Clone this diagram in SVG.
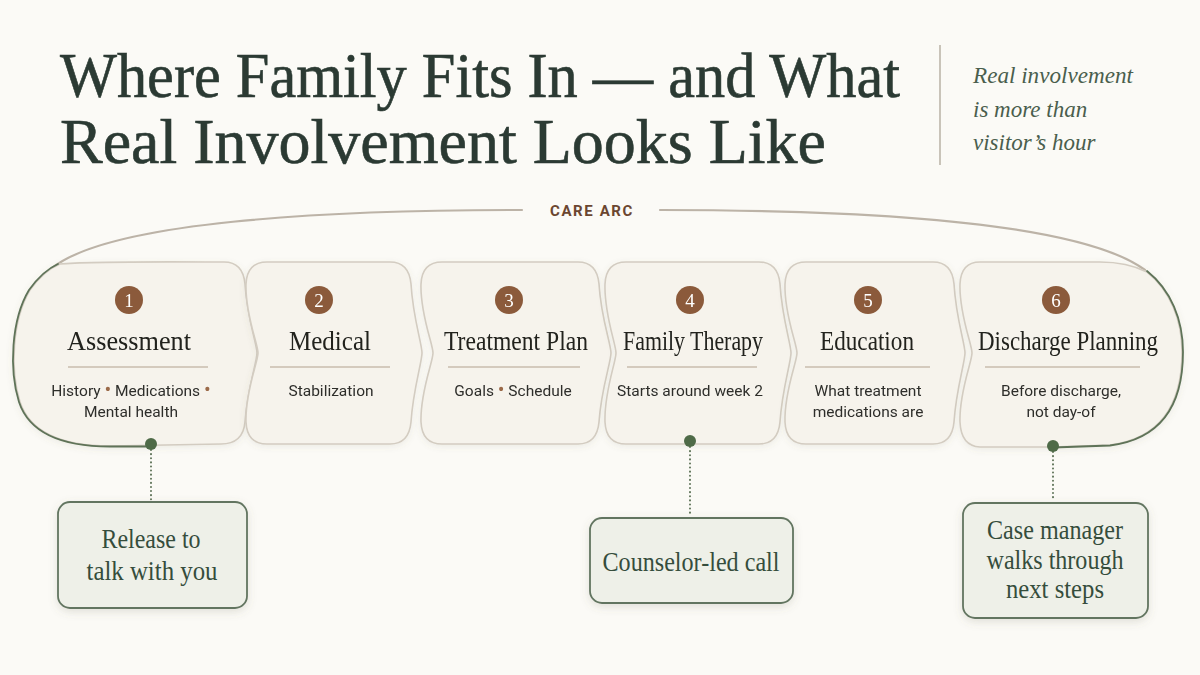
<svg xmlns="http://www.w3.org/2000/svg" width="1200" height="675" viewBox="0 0 1200 675">
<defs>
<style>
.title{font-family:"Liberation Serif","DejaVu Serif",serif;font-size:63px;fill:#2b3a33;stroke:#2b3a33;stroke-width:0.6;}
.side{font-family:"Liberation Serif","DejaVu Serif",serif;font-style:italic;font-size:23px;fill:#4a5e4d;}
.arc{fill:none;stroke:#bcb3a7;stroke-width:2.2;stroke-linecap:round;}
.arclabel{font-family:"Roboto","Liberation Sans",sans-serif;font-weight:bold;font-size:15px;letter-spacing:1.6px;fill:#6b4630;}
.card{fill:#f6f3ec;stroke:#d3ccc1;stroke-width:1.6;}
.green{fill:none;stroke:#5e7358;stroke-width:1.8;stroke-linecap:round;}
.num{fill:#8b5a3a;}
.numt{font-family:"Liberation Serif","DejaVu Serif",serif;font-size:19px;fill:#ffffff;text-anchor:middle;}
.ct{font-family:"Liberation Serif","DejaVu Serif",serif;font-size:27px;fill:#22231f;text-anchor:middle;}
.rule{stroke:#c9bcae;stroke-width:1.6;}
.sub{font-family:"Roboto","Liberation Sans",sans-serif;font-size:15.5px;fill:#2e2e2b;text-anchor:middle;}
.bul{fill:#9b6a4a;font-size:20px;}
.dot{fill:#4e6a47;}
.dl{fill:none;stroke:#5e7358;stroke-width:2;stroke-dasharray:0.1 4;stroke-linecap:round;}
.call{fill:#eef0e8;stroke:#627560;stroke-width:1.8;}
.callt{font-family:"Liberation Serif","DejaVu Serif",serif;font-size:28px;fill:#354d3c;text-anchor:middle;}
</style>
<filter id="sh" x="-10%" y="-10%" width="120%" height="130%">
<feDropShadow dx="0" dy="3" stdDeviation="4" flood-color="#6b6b55" flood-opacity="0.18"/>
</filter>
<filter id="sh2" x="-10%" y="-10%" width="120%" height="130%">
<feDropShadow dx="0" dy="2" stdDeviation="3" flood-color="#6b6b55" flood-opacity="0.10"/>
</filter>
</defs>
<rect width="1200" height="675" fill="#fbfaf6"/>

<g id="title">
<text class="title" x="60" y="97" textLength="840" lengthAdjust="spacingAndGlyphs">Where Family Fits In — and What</text>
<text class="title" x="60" y="163" textLength="766" lengthAdjust="spacingAndGlyphs">Real Involvement Looks Like</text>
</g>
<g id="aside">
<line x1="940" y1="45" x2="940" y2="165" stroke="#bdb6aa" stroke-width="1.6"/>
<text class="side" x="973" y="83" textLength="160" lengthAdjust="spacingAndGlyphs">Real involvement</text>
<text class="side" x="973" y="117">is more than</text>
<text class="side" x="973" y="150">visitor’s hour</text>
</g>

<g id="connectors">
<path class="arc" d="M 52 268 C 110 222, 320 210, 522 210"/>
<path class="arc" d="M 660 210 C 870 210, 1080 222, 1145 270"/>
<path class="dl" d="M 151 450 L 151 500"/>
<path class="dl" d="M 690 447 L 690 516"/>
<path class="dl" d="M 1053 452 L 1053 501"/>
</g>
<g id="care-arc-label"><text class="arclabel" x="592" y="216" text-anchor="middle">CARE ARC</text></g>

<g id="step1" filter="url(#sh2)">
<path class="card" d="M 60 264 C 90 261, 200 262, 224 262 Q 243 262 245 284 C 247 318, 257 344, 257 353 C 257 362, 247 390, 245 422 Q 243 444 221 444 L 110 446 C 60 446, 30 432, 20 402 C 10 370, 12 320, 30 290 C 40 276, 50 268, 60 264 Z"/>
<path class="green" d="M 150 446.5 L 110 446.5 C 60 446.5, 29 432, 19 402 C 9 370, 11 320, 29 290 C 39 276, 49 268, 58 264"/>
<circle class="num" cx="129" cy="300" r="14"/><text class="numt" x="129" y="307">1</text>
<text class="ct" x="129" y="350" textLength="124" lengthAdjust="spacingAndGlyphs">Assessment</text>
<line class="rule" x1="68" y1="367" x2="208" y2="367"/>
<text class="sub" x="131" y="396">History <tspan class="bul">•</tspan> Medications <tspan class="bul">•</tspan></text>
<text class="sub" x="131" y="417">Mental health</text>
</g>

<g id="step2" filter="url(#sh2)">
<path class="card" d="M 267 262 H 390 Q 409 262 411 284 C 413 318, 422 344, 422 353 C 422 362, 413 390, 411 422 Q 409 444 390 444 H 267 Q 247 444 246 422 C 245 392, 258 362, 258 353 C 258 344, 245 314, 246 284 Q 247 262 267 262 Z"/>
<circle class="num" cx="319" cy="300" r="14"/><text class="numt" x="319" y="307">2</text>
<text class="ct" x="330" y="350" textLength="82" lengthAdjust="spacingAndGlyphs">Medical</text>
<line class="rule" x1="270" y1="367" x2="390" y2="367"/>
<text class="sub" x="331" y="396">Stabilization</text>
</g>

<g id="step3" filter="url(#sh2)">
<path class="card" d="M 442 262 H 578 Q 597 262 599 284 C 601 318, 611 344, 611 353 C 611 362, 601 390, 599 422 Q 597 444 578 444 H 442 Q 422 444 421 422 C 420 392, 433 362, 433 353 C 433 344, 420 314, 421 284 Q 422 262 442 262 Z"/>
<circle class="num" cx="509" cy="300" r="14"/><text class="numt" x="509" y="307">3</text>
<text class="ct" x="516" y="350" textLength="144" lengthAdjust="spacingAndGlyphs">Treatment Plan</text>
<line class="rule" x1="448" y1="367" x2="580" y2="367"/>
<text class="sub" x="513" y="396">Goals <tspan class="bul">•</tspan> Schedule</text>
</g>

<g id="step4" filter="url(#sh2)">
<path class="card" d="M 626 262 H 759 Q 778 262 780 284 C 782 318, 791 344, 791 353 C 791 362, 782 390, 780 422 Q 778 444 759 444 H 626 Q 606 444 605 422 C 604 392, 616 362, 616 353 C 616 344, 604 314, 605 284 Q 606 262 626 262 Z"/>
<circle class="num" cx="690" cy="300" r="14"/><text class="numt" x="690" y="307">4</text>
<text class="ct" x="693" y="350" textLength="140" lengthAdjust="spacingAndGlyphs">Family Therapy</text>
<line class="rule" x1="627" y1="367" x2="757" y2="367"/>
<text class="sub" x="690" y="396">Starts around week 2</text>
</g>

<g id="step5" filter="url(#sh2)">
<path class="card" d="M 806 262 H 933 Q 952 262 954 284 C 956 318, 965 344, 965 353 C 965 362, 956 390, 954 422 Q 952 444 933 444 H 806 Q 786 444 785 422 C 784 392, 797 362, 797 353 C 797 344, 784 314, 785 284 Q 786 262 806 262 Z"/>
<circle class="num" cx="868" cy="300" r="14"/><text class="numt" x="868" y="307">5</text>
<text class="ct" x="867" y="350" textLength="94" lengthAdjust="spacingAndGlyphs">Education</text>
<line class="rule" x1="805" y1="367" x2="930" y2="367"/>
<text class="sub" x="868" y="396">What treatment</text>
<text class="sub" x="868" y="417">medications are</text>
</g>

<g id="step6" filter="url(#sh2)">
<path class="card" d="M 980 262 H 1100 C 1120 262, 1135 266, 1147 272 C 1170 290, 1182 320, 1182 352 C 1182 400, 1165 438, 1110 445 L 1053 447 H 980 Q 961 446 960 422 C 959 392, 972 362, 972 353 C 972 344, 959 314, 960 284 Q 961 262 980 262 Z"/>
<path class="green" d="M 1053 447.5 L 1110 445.5 C 1165 438.5, 1183 400, 1183 352 C 1183 320, 1171 290, 1147 271"/>
<circle class="num" cx="1056" cy="300" r="14"/><text class="numt" x="1056" y="307">6</text>
<text class="ct" x="1068" y="350" textLength="180" lengthAdjust="spacingAndGlyphs">Discharge Planning</text>
<line class="rule" x1="985" y1="367" x2="1140" y2="367"/>
<text class="sub" x="1061" y="396">Before discharge,</text>
<text class="sub" x="1061" y="417">not day-of</text>
</g>

<g id="dots">
<circle class="dot" cx="151" cy="444" r="6"/>
<circle class="dot" cx="690" cy="441" r="6"/>
<circle class="dot" cx="1053" cy="446" r="6"/>
</g>

<g id="callout1">
<rect class="call" x="58" y="502" width="189" height="106" rx="12" filter="url(#sh)"/>
<text class="callt" x="151" y="548" textLength="99" lengthAdjust="spacingAndGlyphs">Release to</text>
<text class="callt" x="152" y="580" textLength="131" lengthAdjust="spacingAndGlyphs">talk with you</text>
</g>
<g id="callout2">
<rect class="call" x="590" y="518" width="203" height="85" rx="12" filter="url(#sh)"/>
<text class="callt" x="691" y="571" textLength="177" lengthAdjust="spacingAndGlyphs">Counselor-led call</text>
</g>
<g id="callout3">
<rect class="call" x="963" y="503" width="185" height="115" rx="12" filter="url(#sh)"/>
<text class="callt" x="1055" y="539" textLength="136" lengthAdjust="spacingAndGlyphs">Case manager</text>
<text class="callt" x="1055" y="569" textLength="137" lengthAdjust="spacingAndGlyphs">walks through</text>
<text class="callt" x="1055" y="598" textLength="98" lengthAdjust="spacingAndGlyphs">next steps</text>
</g>
</svg>
